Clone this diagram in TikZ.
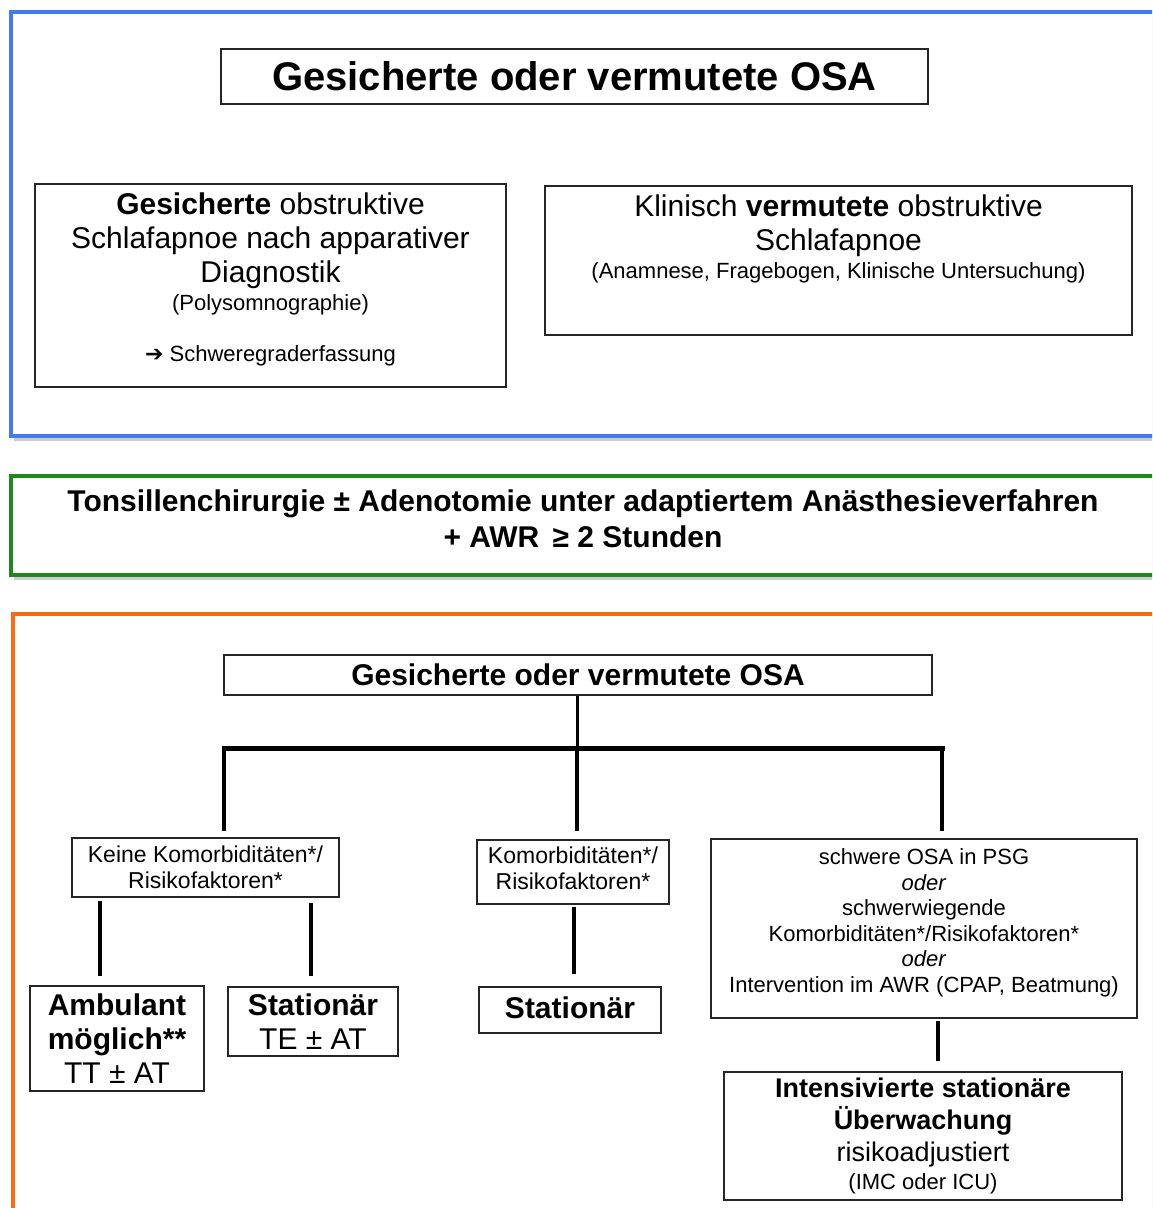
\documentclass[tikz,border=0pt]{standalone}
\usepackage{fontspec}
\setmainfont{Liberation Sans}
\newfontfamily\symfont{DejaVu Sans}
\usetikzlibrary{positioning,shadows,calc}
\definecolor{frameblue}{RGB}{70,120,240}
\definecolor{framegreen}{RGB}{30,135,30}
\definecolor{frameorange}{RGB}{255,105,15}

\begin{document}
\begin{tikzpicture}[x=0.5pt,y=-0.5pt,
        frame/.style={line width=2pt, fill=white, drop shadow={shadow xshift=1.5pt, shadow yshift=-2.5pt, opacity=0.4}},
        box/.style={draw=black!85, line width=0.7pt, align=center, inner sep=0pt, fill=white},
        bigtext/.style={font=\fontsize{15}{17}\selectfont},
        smalltext/.style={font=\fontsize{11.5}{13}\selectfont},
        link/.style={line width=2pt}]
        \useasboundingbox (0,0) rectangle (1152,1208);
        \clip (0,0) rectangle (1152,1208);
        % Draw frames
        \draw[frame, draw=frameblue] (11,12) rectangle (1180,436);
        \draw[frame, draw=framegreen] (11,476) rectangle (1180,575);
        \draw[frame, draw=frameorange] (13,614) rectangle (1180,1240);
        % Upper part
        \node[box, minimum width=353.5pt, minimum height=27.5pt, font=\bfseries\fontsize{20}{24}\selectfont] (osatop) at (574.5,76.5) {Gesicherte oder vermutete OSA};
        \node[box, bigtext, minimum width=235.5pt, minimum height=101.5pt] (gesichert) at (270.5,285.5) {\textbf{Gesicherte} obstruktive\\Schlafapnoe nach apparativer\\Diagnostik\\[-3pt]{\fontsize{11}{13}\selectfont (Polysomnographie)}\\[8.5pt]{\fontsize{11}{13}\selectfont{\symfont\bfseries ➔} Schweregraderfassung}\rule[-8pt]{0pt}{0pt}};
        \node[box, bigtext, minimum width=293.5pt, minimum height=74.5pt] (vermutet) at (838.5,260.5) {Klinisch \textbf{vermutete} obstruktive\\Schlafapnoe\\[-3pt]{\fontsize{11}{13}\selectfont (Anamnese, Fragebogen, Klinische Untersuchung)}\rule[-24pt]{0pt}{0pt}};
        % Middle part
        \node[font=\bfseries\fontsize{15}{18}\selectfont, align=center] (eingriff) at (583,519) {Tonsillenchirurgie ± Adenotomie unter adaptiertem Anästhesieverfahren\\+ AWR\, ≥ 2 Stunden};
        % Lower part
        \node[box, minimum width=354pt, minimum height=20pt, font=\bfseries\fontsize{15}{17}\selectfont] (osa) at (578,675) {Gesicherte oder vermutete OSA};
        \coordinate (barL) at (224,748);
        \coordinate (barM) at (577,748);
        \coordinate (barR) at (942,748);
        \node[box, smalltext, minimum width=133.5pt, minimum height=29.5pt] (keine) at (205.5,867.5) {Keine Komorbiditäten*/\\Risikofaktoren*};
        \node[box, smalltext, minimum width=96pt, minimum height=32pt] (komorb) at (573,872) {Komorbiditäten*/\\Risikofaktoren*\rule[-4pt]{0pt}{0pt}};
        \node[box, font=\fontsize{11}{12.75}\selectfont, minimum width=213pt, minimum height=89.5pt] (schwer) at (924,928.5) {schwere OSA in PSG\\\textit{oder}\\schwerwiegende\\Komorbiditäten*/Risikofaktoren*\\\textit{oder}\\Intervention im AWR (CPAP, Beatmung)\rule[-8pt]{0pt}{0pt}};
        \node[box, bigtext, minimum width=87pt, minimum height=52.5pt] (ambulant) at (117,1038.5) {\textbf{Ambulant}\\\textbf{möglich**}\\TT ± AT};
        \node[box, bigtext, minimum width=85pt, minimum height=34.5pt] (stationaer) at (313,1021.5) {\textbf{Stationär}\\TE ± AT};
        \node[box, bigtext, minimum width=91pt, minimum height=23pt] (stationaerB) at (570,1010) {\textbf{Stationär}\rule[-2pt]{0pt}{0pt}};
        \node[box, minimum width=199pt, minimum height=64pt, font=\fontsize{13.5}{16}\selectfont] (intensiv) at (923,1136) {\textbf{Intensivierte stationäre}\\\textbf{Überwachung}\\risikoadjustiert\\[-2pt]{\fontsize{11}{13}\selectfont (IMC oder ICU)}};
        % Draw tree
        \draw[line width=1.5pt] (barM |- osa.south) -- (barM);
        \draw[line width=2.5pt, line cap=rect] (barL) -- (barR);
        \draw[link, shorten >=3pt] (barL) -- (barL |- keine.north);
        \draw[link, shorten >=4pt] (barM) -- (barM |- komorb.north);
        \draw[link, shorten >=3.5pt] (barR) -- (barR |- schwer.north);
        \draw[link, shorten <=1.5pt, shorten >=4.5pt] ([xshift=-8.5pt]ambulant.north |- keine.south) -- ([xshift=-8.5pt]ambulant.north);
        \draw[link, shorten <=2.5pt, shorten >=5pt] ([xshift=-1pt]stationaer.north |- keine.south) -- ([xshift=-1pt]stationaer.north);
        \draw[link, shorten <=1pt, shorten >=6pt] ([xshift=2pt]stationaerB.north |- komorb.south) -- ([xshift=2pt]stationaerB.north);
        \draw[link, shorten <=1pt, shorten >=5pt] ([xshift=7.5pt]intensiv.north |- schwer.south) -- ([xshift=7.5pt]intensiv.north);
\end{tikzpicture}
\end{document}
